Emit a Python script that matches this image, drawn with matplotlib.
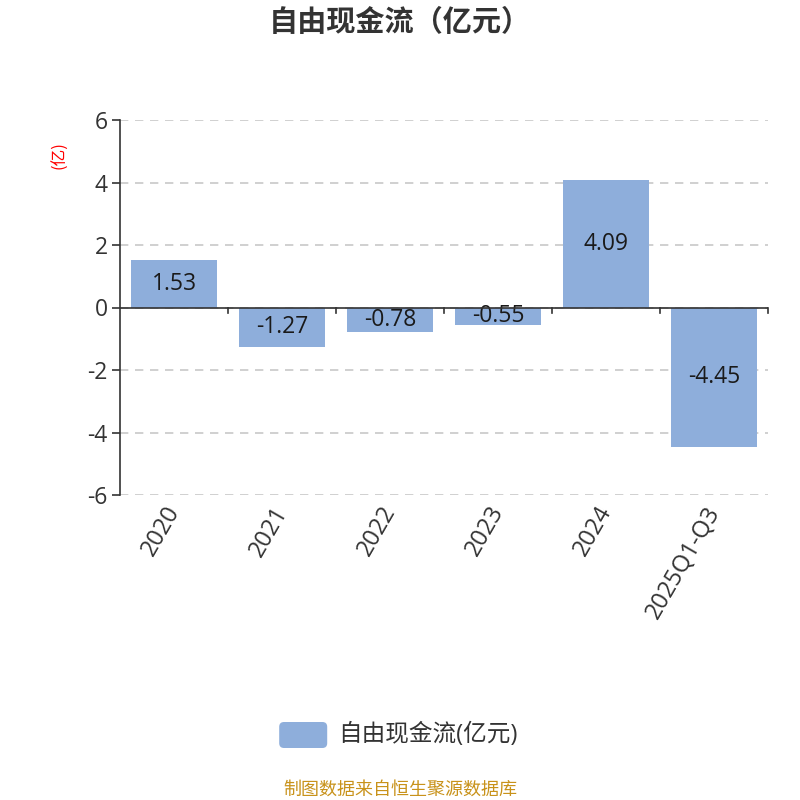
import matplotlib
matplotlib.use("Agg")
import matplotlib.pyplot as plt
from matplotlib.patches import FancyBboxPatch

plt.rcParams['font.family'] = ['Open Sans', 'Noto Sans CJK SC', 'DejaVu Sans']
plt.rcParams['axes.unicode_minus'] = False

categories = ['2020', '2021', '2022', '2023', '2024', '2025Q1-Q3']
values = [1.53, -1.27, -0.78, -0.55, 4.09, -4.45]
yticks = [-6, -4, -2, 0, 2, 4, 6]

bar_color = '#8eaedb'
text_color = '#333333'

fig = plt.figure(figsize=(8, 8), dpi=100)
ax = fig.add_axes([0.15, 0.38125, 0.81, 0.46875])

x = list(range(len(categories)))
ax.bar(x, values, width=0.8, color=bar_color, zorder=2)
for xi, v in zip(x, values):
    ax.text(xi, v / 2, f'{v:.2f}', ha='center', va='center',
            fontsize=16.5, color='#1a1a1a', zorder=3)

ax.set_xlim(-0.5, len(categories) - 0.5)
ax.set_ylim(-6, 6)
ax.set_yticks(yticks)
ax.set_yticklabels([str(t) for t in yticks], fontsize=16.5, color=text_color)
ax.yaxis.grid(True, linestyle=(0, (5, 4)), color='#c8c8c8', linewidth=1.2, zorder=0)

for s in ['top', 'right', 'bottom']:
    ax.spines[s].set_visible(False)
ax.spines['left'].set_color(text_color)
ax.spines['left'].set_linewidth(1.2)
ax.tick_params(axis='y', length=6, width=1.2, color=text_color, pad=3)

# zero line with ticks at category boundaries
ax.axhline(0, color=text_color, linewidth=1.2, zorder=4)
for b in range(1, len(categories) + 1):
    ax.plot([b - 0.5, b - 0.5], [0, -0.18], color=text_color, linewidth=1.2,
            zorder=4, clip_on=False)

ax.set_xticks(x)
ax.set_xticklabels([])
ax.tick_params(axis='x', length=0)
for xi, c in zip(x, categories):
    ax.annotate(c, xy=(xi, -6), xycoords='data', xytext=(-7, -5),
                textcoords='offset points', rotation=60, ha='right', va='top',
                fontsize=17, color=text_color, rotation_mode='anchor')

fig.text(0.0745, 0.806, '(亿)', color='red', fontsize=12, rotation=90,
         ha='center', va='center', family=['Noto Sans CJK SC'])

fig.text(0.5, 0.9725, '自由现金流（亿元）', ha='center', va='center',
         fontsize=21, fontweight='bold', color=text_color,
         family=['Noto Sans CJK SC'])

# legend
patch = FancyBboxPatch((0.349, 0.065), 0.06, 0.0325, boxstyle='round,pad=0,rounding_size=0.006',
                       transform=fig.transFigure, facecolor=bar_color, edgecolor='none')
fig.patches.append(patch)
fig.text(0.4225, 0.081, '自由现金流(亿元)', ha='left', va='center',
         fontsize=17, color=text_color)

fig.text(0.5, 0.0125, '制图数据来自恒生聚源数据库', ha='center', va='center',
         fontsize=13, color='#c8921a', family=['Noto Sans CJK SC'])

fig.savefig('out.png', dpi=100)
